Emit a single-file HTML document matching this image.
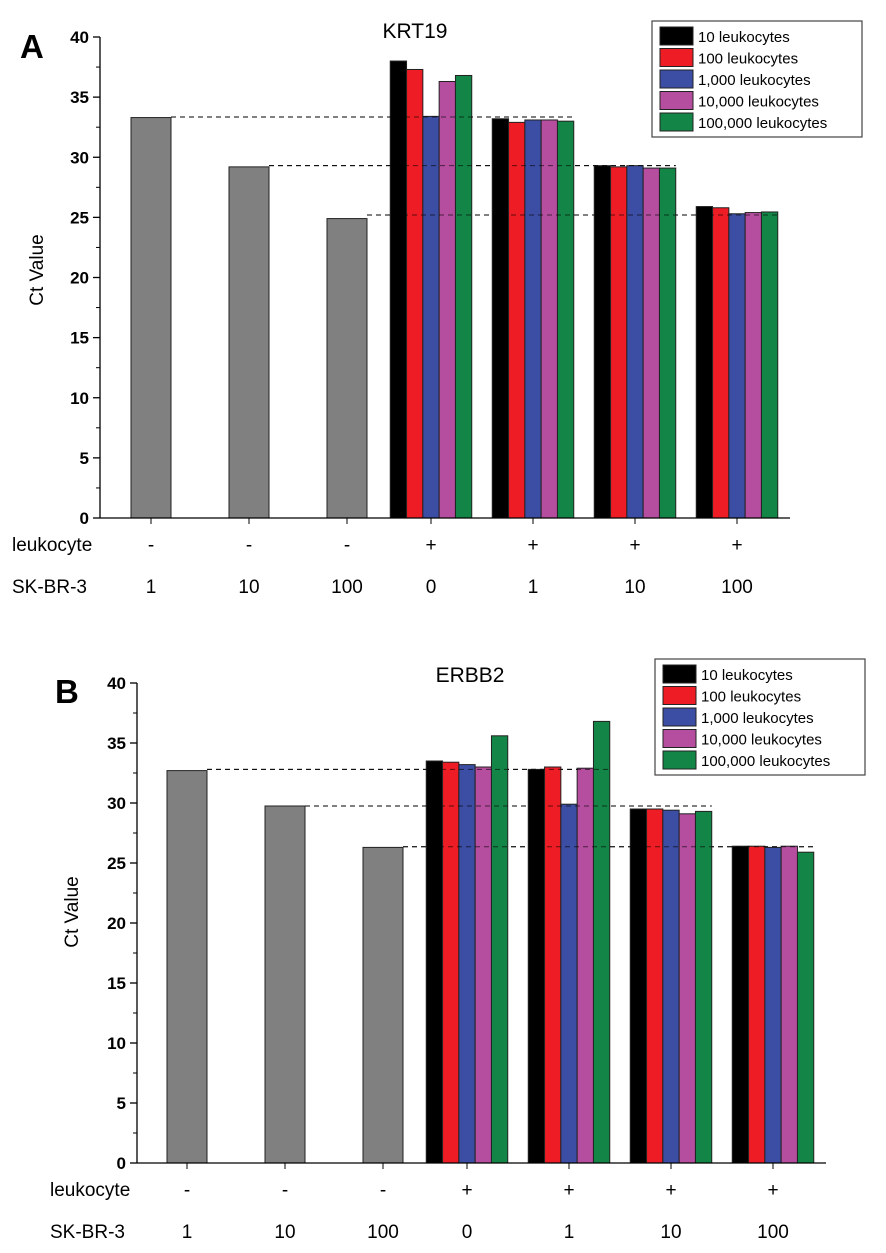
<!DOCTYPE html>
<html><head><meta charset="utf-8"><style>
html,body{margin:0;padding:0;background:#fff;}
svg{display:block;font-family:"Liberation Sans",Arial,sans-serif;}
</style></head><body>
<svg id="svg" width="886" height="1253" viewBox="0 0 886 1253"></svg>
<script>
const categoriesLeuk = ['-','-','-','+','+','+','+'];
const categoriesSK = ['1','10','100','0','1','10','100'];
const seriesNames = ['10 leukocytes','100 leukocytes','1,000 leukocytes','10,000 leukocytes','100,000 leukocytes'];
const seriesColors = ['#000000','#ee1c24','#3b4ea3','#b54e9f','#138546'];
const yTicks = [0,5,10,15,20,25,30,35,40];
const krtGray = [33.3,29.2,24.9];
const krtS1 = [38.0,33.2,29.3,25.9];
const krtS2 = [37.3,32.9,29.2,25.8];
const krtS3 = [33.4,33.1,29.3,25.3];
const krtS4 = [36.3,33.1,29.1,25.4];
const krtS5 = [36.8,33.0,29.1,25.45];
const krtRef = [33.35,29.3,25.2];
const erbGray = [32.7,29.75,26.3];
const erbS1 = [33.5,32.8,29.5,26.4];
const erbS2 = [33.4,33.0,29.5,26.4];
const erbS3 = [33.2,29.9,29.4,26.3];
const erbS4 = [33.0,32.9,29.1,26.4];
const erbS5 = [35.6,36.8,29.3,25.9];
const erbRef = [32.8,29.75,26.35];

const NS='http://www.w3.org/2000/svg';
const svg=document.getElementById('svg');
function el(tag,attrs,parent,text){const e=document.createElementNS(NS,tag);for(const k in attrs)e.setAttribute(k,attrs[k]);if(text!==undefined)e.textContent=text;(parent||svg).appendChild(e);return e;}

function drawPanel(o){
  const g=el('g',{});
  
  
  const y=v=>o.y0-v*o.ppu;
  const xc=i=>i<3?o.gx0+i*98:o.cx0+(i-3)*102;
  const gw=40,cw=16.3;
  // dashed ref lines
  o.ref.forEach((v,i)=>{
    const l=el('line',{x1:xc(i)+gw/2,x2:xc(i+4)+2.5*cw,y1:y(v),y2:y(v),stroke:'#000','stroke-width':1,'stroke-dasharray':'5,4'},g);
    
    
  });
  o.gray.forEach((v,i)=>{
    const r=el('rect',{x:xc(i)-gw/2,y:y(v),width:gw,height:o.y0-y(v),fill:'#808080',stroke:'#222','stroke-width':1},g);
    
    
  });
  o.series.forEach((s,si)=>{
    s.forEach((v,gi)=>{
      const cx=xc(gi+3);
      const r=el('rect',{x:cx-2.5*cw+si*cw,y:y(v),width:cw,height:o.y0-y(v),fill:seriesColors[si],stroke:'#222','stroke-width':1},g);
      
      
    });
  });
  // redraw dashed over bars (visible through bars in reference)
  o.ref.forEach((v,i)=>{
    el('line',{x1:xc(i)+gw/2,x2:xc(i+4)+2.5*cw,y1:y(v),y2:y(v),stroke:'#000','stroke-width':1,'stroke-dasharray':'5,4','stroke-opacity':0.6},g);
  });
  // axes
  const ax=el('line',{x1:o.ax,x2:o.ax,y1:y(40),y2:o.y0,stroke:'#000','stroke-width':1.3},g);
  
  const xa=el('line',{x1:o.ax,x2:o.axEnd,y1:o.y0,y2:o.y0,stroke:'#000','stroke-width':1.3},g);
  
  yTicks.forEach(t=>{
    el('line',{x1:o.ax-7,x2:o.ax,y1:y(t),y2:y(t),stroke:'#000','stroke-width':1.3},g);
    if(t<40)el('line',{x1:o.ax-4,x2:o.ax,y1:y(t+2.5),y2:y(t+2.5),stroke:'#000','stroke-width':1},g);
    const tl=el('text',{x:o.ax-11,y:y(t)+6,'text-anchor':'end','font-size':17,'font-weight':'bold'},g,t);
    
  });
  for(let i=0;i<7;i++){
    el('line',{x1:xc(i),x2:xc(i),y1:o.y0,y2:o.y0+6,stroke:'#000','stroke-width':1},g);
    const a=el('text',{x:xc(i),y:o.y0+33,'text-anchor':'middle','font-size':19},g,categoriesLeuk[i]);
    
    const b=el('text',{x:xc(i),y:o.y0+75,'text-anchor':'middle','font-size':19},g,categoriesSK[i]);
    
  }
  const r1=el('text',{x:o.rowX,y:o.y0+33,'font-size':19},g,'leukocyte');
  
  const r2=el('text',{x:o.rowX,y:o.y0+75,'font-size':19},g,'SK-BR-3');
  
  const yl=el('text',{x:0,y:0,'text-anchor':'middle','font-size':19,transform:`translate(${o.ylX},${o.ylY}) rotate(-90)`},g,'Ct Value');
  
  const ti=el('text',{x:o.titleX,y:o.titleY,'text-anchor':'middle','font-size':21},g,o.title);
  
  const pl=el('text',{x:o.letterX,y:o.letterY,'font-size':33,'font-weight':'bold'},g,o.letter);
  
  // legend
  const lg=el('g',{},g);
  
  el('rect',{x:o.lgX,y:o.lgY,width:210,height:116,fill:'#fff',stroke:'#444','stroke-width':1.2},lg);
  seriesNames.forEach((n,i)=>{
    const e=el('g',{},lg);
    
    el('rect',{x:o.lgX+8,y:o.lgY+6+i*21.5,width:33,height:18,fill:seriesColors[i],stroke:'#222','stroke-width':1},e);
    el('text',{x:o.lgX+46,y:o.lgY+21+i*21.5,'font-size':15},e,n);
  });
}
drawPanel({name:'krt19-chart',letter:'A',letterX:20,letterY:58,title:'KRT19',titleX:415,titleY:38,
  y0:518,ppu:12.025,ax:100,axEnd:790,gx0:151,cx0:431,gray:krtGray,series:[krtS1,krtS2,krtS3,krtS4,krtS5],ref:krtRef,
  rowX:12,ylX:43,ylY:270,lgX:652,lgY:21});
drawPanel({name:'erbb2-chart',letter:'B',letterX:55,letterY:703,title:'ERBB2',titleX:470,titleY:682,
  y0:1163,ppu:12,ax:137,axEnd:826,gx0:187,cx0:467,gray:erbGray,series:[erbS1,erbS2,erbS3,erbS4,erbS5],ref:erbRef,
  rowX:50,ylX:78,ylY:912,lgX:655,lgY:659});
</script>
</body></html>
